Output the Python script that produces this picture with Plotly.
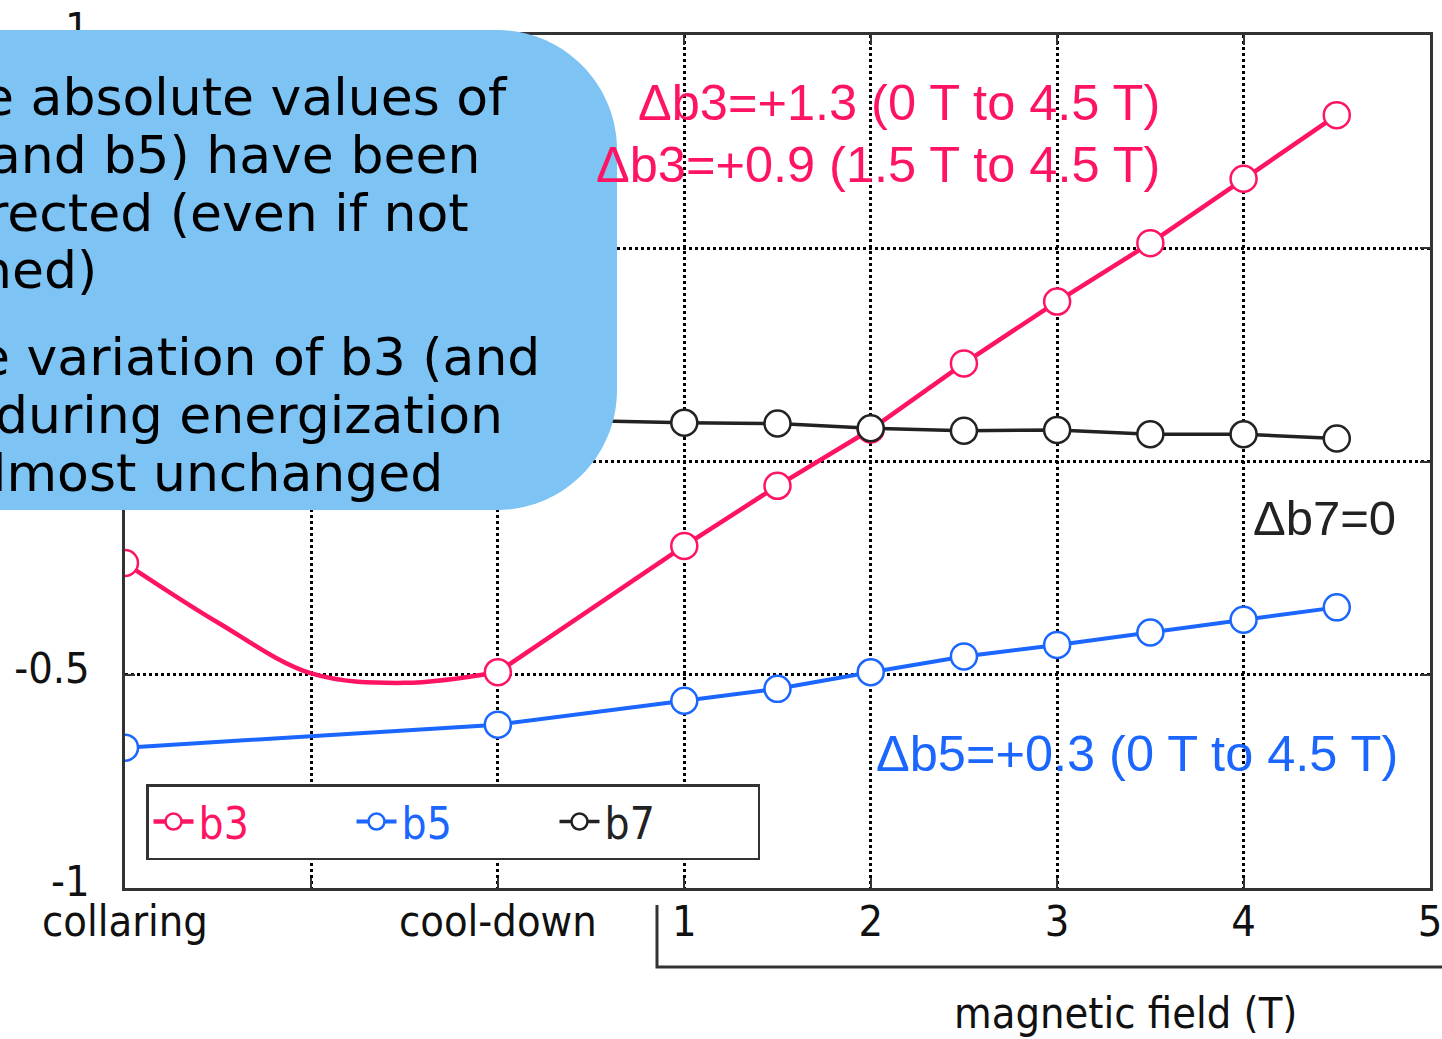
import plotly.graph_objects as go

# ---------------- data ----------------
stage_pos = [-2, -1, 0, 1, 2, 3, 4, 5]
stage_labels = ["collaring", "", "cool-down", "1", "2", "3", "4", "5"]
y_ticks = [-1, -0.5, 0, 0.5, 1]
y_labels = ["-1", "-0.5", "0", "0.5", "1"]

pre_x = [-2, 0]                      # collaring, cool-down
field_x = [1, 1.5, 2, 2.5, 3, 3.5, 4, 4.5]   # magnetic field (T)

b3_pre = [-0.238, -0.494]
b3_field = [-0.198, -0.057, 0.075, 0.230, 0.375, 0.512, 0.663, 0.812]
b3_curve_x = [-2, -1.5, -1, -0.5, 0]
b3_curve_y = [-0.238, -0.378, -0.497, -0.519, -0.494]

b5_pre = [-0.671, -0.617]
b5_field = [-0.561, -0.533, -0.494, -0.457, -0.430, -0.401, -0.371, -0.342]

b7_pre = [0.10, 0.10]
b7_field = [0.091, 0.089, 0.078, 0.072, 0.074, 0.064, 0.064, 0.054]

PINK = "#ff1464"
BLUE = "#1a66ff"
BLACK = "#222222"
TICKFONT = "DejaVu Sans Condensed, DejaVu Sans"
ANNFONT = "Liberation Sans, Arial"

W_FIG, H_FIG = 1442, 1039
L, R, T, B = 125, 1430, 35, 888
PW, PH = R - L, B - T


def px(x):
    return (x - L) / PW


def py(y):
    return (B - y) / PH


fig = go.Figure()

# b3 pre-field smooth curve
fig.add_trace(go.Scatter(x=b3_curve_x, y=b3_curve_y, mode="lines",
                         line=dict(color=PINK, width=4.5, shape="spline"),
                         showlegend=False, hoverinfo="skip"))


def mk(c):
    return dict(symbol="circle", size=26, color="white", line=dict(color=c, width=2.5))


fig.add_trace(go.Scatter(x=[pre_x[0], None, pre_x[1]] + field_x,
                         y=[b3_pre[0], None, b3_pre[1]] + b3_field,
                         mode="lines+markers", name=f"<span style='color:{PINK}'>b3</span>",
                         line=dict(color=PINK, width=4.5), marker=mk(PINK), connectgaps=False))
fig.add_trace(go.Scatter(x=pre_x + field_x, y=b5_pre + b5_field,
                         mode="lines+markers", name=f"<span style='color:{BLUE}'>b5</span>",
                         line=dict(color=BLUE, width=4), marker=mk(BLUE)))
fig.add_trace(go.Scatter(x=pre_x + field_x, y=b7_pre + b7_field,
                         mode="lines+markers", name=f"<span style='color:{BLACK}'>b7</span>",
                         line=dict(color=BLACK, width=3.5), marker=mk(BLACK)))

axis_common = dict(showline=True, linecolor="#333", linewidth=2.5, mirror="ticks",
                   ticks="inside", ticklen=10, tickwidth=2, tickcolor="#333",
                   showgrid=True, gridcolor="#000", gridwidth=2.5, griddash="dot",
                   zeroline=False, automargin=False, ticklabeloverflow="allow",
                   tickfont=dict(family=TICKFONT, size=43, color="#111"))

fig.update_xaxes(range=[-2, 5], tickmode="array", tickvals=stage_pos, ticktext=stage_labels,
                 ticklabelstandoff=-6, **axis_common)
fig.update_yaxes(range=[-1, 1], tickmode="array", tickvals=y_ticks, ticktext=y_labels,
                 ticklabelstandoff=24, ticklabelshift=-7, **axis_common)

# blue callout box (rounded right corners)
r = 120
k = 0.5523 * r
bx0, by0, bx1, by1 = -60, 30, 617, 510
pts = [
    ("M", [(bx0, by0)]),
    ("L", [(bx1 - r, by0)]),
    ("C", [(bx1 - r + k, by0), (bx1, by0 + r - k), (bx1, by0 + r)]),
    ("L", [(bx1, by1 - r)]),
    ("C", [(bx1, by1 - r + k), (bx1 - r + k, by1), (bx1 - r, by1)]),
    ("L", [(bx0, by1)]),
]
path = ""
for cmd, plist in pts:
    path += cmd + " ".join(f"{px(a):.5f},{py(b):.5f}" for a, b in plist) + " "
path += "Z"

shapes = [
    dict(type="path", path=path, xref="paper", yref="paper", layer="above",
         fillcolor="#7dc3f4", line=dict(width=0)),
    # bracket under the magnetic-field ticks
    dict(type="path", xref="paper", yref="paper", layer="above",
         path=f"M{px(657):.5f},{py(905):.5f} L{px(657):.5f},{py(967):.5f} L{px(1460):.5f},{py(967):.5f}",
         line=dict(color="#333", width=3)),
]

box_lines = ["e absolute values of", "and b5) have been", "rected (even if not", "ned)",
             "e variation of b3 (and", "during energization", "lmost unchanged"]
box_y = [97, 155, 213, 270, 357, 415, 473]
box_x = [-20, -13, -15, -23, -24, -7, -10]

annotations = []
for t, xx, yy in zip(box_lines, box_x, box_y):
    annotations.append(dict(text=t, x=px(xx), y=py(yy), xref="paper", yref="paper",
                            xanchor="left", yanchor="middle", showarrow=False,
                            font=dict(family="DejaVu Sans", size=52, color="black")))

annotations += [
    dict(text="Δb3=+1.3 (0 T to 4.5 T)", x=px(1162), y=py(103), xanchor="right"),
    dict(text="Δb3=+0.9 (1.5 T to 4.5 T)", x=px(1162), y=py(165), xanchor="right"),
]
for a in annotations[-2:]:
    a.update(xref="paper", yref="paper", yanchor="middle", showarrow=False,
             font=dict(family=ANNFONT, size=50.5, color=PINK))
annotations.append(dict(text="Δb5=+0.3 (0 T to 4.5 T)", x=px(1400), y=py(753), xref="paper",
                        yref="paper", xanchor="right", yanchor="middle", showarrow=False,
                        font=dict(family=ANNFONT, size=50.5, color=BLUE)))
annotations.append(dict(text="Δb7=0", x=px(1398), y=py(518), xref="paper", yref="paper",
                        xanchor="right", yanchor="middle", showarrow=False,
                        font=dict(family=ANNFONT, size=49, color=BLACK)))
annotations.append(dict(text="magnetic field (T)", x=px(1125), y=py(1013), xref="paper",
                        yref="paper", xanchor="center", yanchor="middle", showarrow=False,
                        font=dict(family=TICKFONT, size=43, color="#111")))

fig.update_layout(
    width=W_FIG, height=H_FIG,
    margin=dict(l=L, r=W_FIG - R, t=T, b=H_FIG - B),
    plot_bgcolor="white", paper_bgcolor="white",
    shapes=shapes, annotations=annotations,
    legend=dict(orientation="h", x=px(146), y=py(784), xanchor="left", yanchor="top",
                bgcolor="white", bordercolor="#333", borderwidth=2.5,
                font=dict(family=TICKFONT, size=44, color="#111"),
                entrywidth=148, entrywidthmode="pixels", itemwidth=40),
    showlegend=True,
)

fig.write_html("out.html", config={"displayModeBar": False},
               post_script="document.body.style.margin='0px';")
